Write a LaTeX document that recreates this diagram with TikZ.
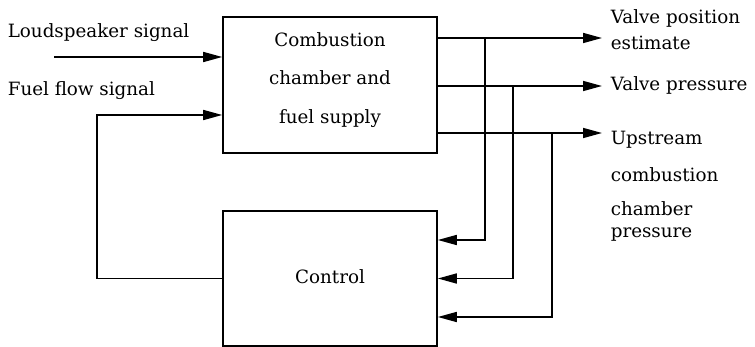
\documentclass[tikz,border=0pt]{standalone}
\usepackage{fontspec}
\setmainfont{DejaVu Serif}
\usetikzlibrary{arrows.meta}
\begin{document}
\begin{tikzpicture}[x=1pt,y=-1pt,
  line width=1.6pt,
  blk/.style={draw,rectangle,minimum width=214pt,inner sep=0pt},
  lbl/.style={anchor=base west,inner sep=0pt,font=\fontsize{18.3}{22}\selectfont},
  arr/.style={-{Triangle[length=19pt,width=10pt]}},
  font=\fontsize{18.3}{22}\selectfont]
\useasboundingbox (0,0) rectangle (755,347);
\node[blk,minimum height=136pt] (cc) at (330,85) {};
\node[blk,minimum height=135pt] (ctrl) at (330,278.5) {};
\node[anchor=base,inner sep=0pt] (t1) at (330,47) {Combustion};
\node[anchor=base,inner sep=0pt] (t2) at (330,85) {chamber and};
\node[anchor=base,inner sep=0pt] (t3) at (330,124) {fuel supply};
\node[anchor=base,inner sep=0pt] (tc) at (330,284) {Control};
\node[lbl] (ls) at (7,38) {Loudspeaker signal};
\node[lbl] (ff) at (7,96) {Fuel flow signal};
\node[lbl] (o1a) at (610,24) {Valve position};
\node[lbl] (o1b) at (610,50) {estimate};
\node[lbl] (o2) at (610,91) {Valve pressure};
\node[lbl] (o3a) at (610,145) {Upstream};
\node[lbl] (o3b) at (610,182) {combustion};
\node[lbl] (o3c) at (610,216) {chamber};
\node[lbl] (o3d) at (610,238) {pressure};
\coordinate (lsin) at (54,57);
\coordinate (e1) at (602,38);
\coordinate (e2) at (602,86);
\coordinate (e3) at (602,133);
\coordinate (j1) at (485,38);
\coordinate (j2) at (513,86);
\coordinate (j3) at (552,133);
\draw[arr] (lsin) -- (cc.west |- lsin);
\draw[arr] (ctrl.west) -- (97,278.5) |- (cc.west |- 0,115);
\draw[arr] (cc.east |- e1) -- (e1);
\draw[arr] (cc.east |- e2) -- (e2);
\draw[arr] (cc.east |- e3) -- (e3);
\draw[arr] (j1) |- (ctrl.east |- 0,240);
\draw[arr] (j2) |- (ctrl.east |- 0,278.5);
\draw[arr] (j3) |- (ctrl.east |- 0,317);
\end{tikzpicture}
\end{document}
